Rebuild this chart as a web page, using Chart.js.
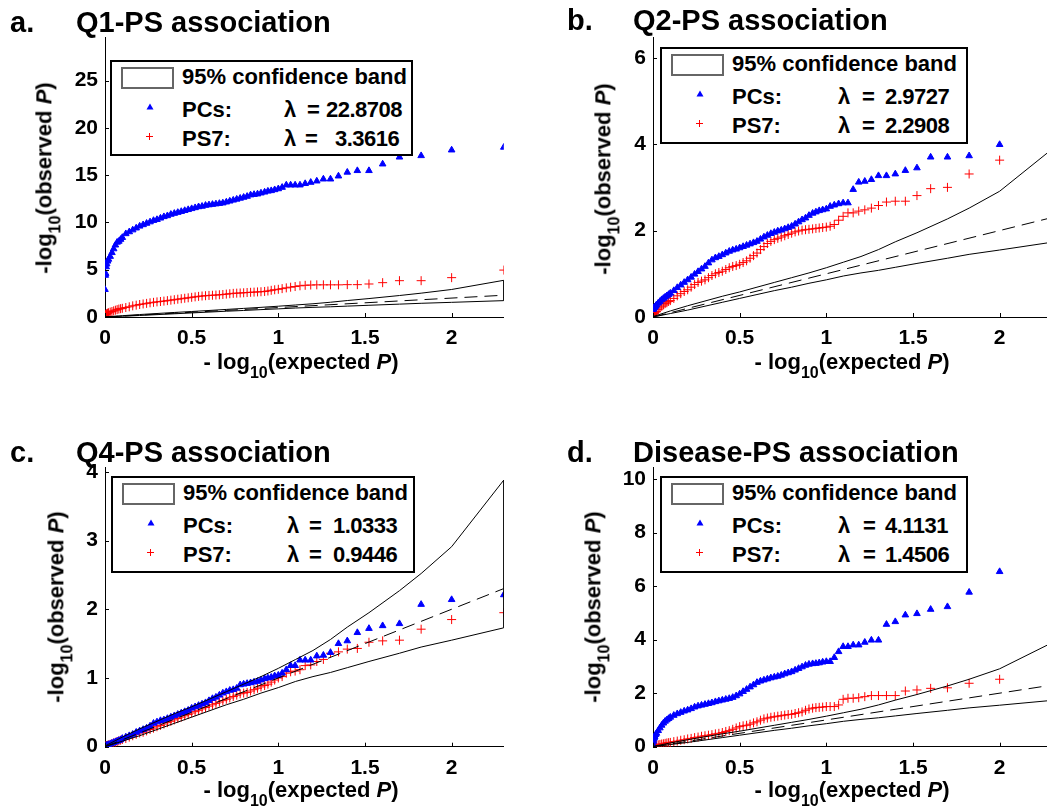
<!DOCTYPE html>
<html><head><meta charset="utf-8">
<script src="https://cdn.jsdelivr.net/npm/chart.js@4.4.0/dist/chart.umd.min.js"></script>
<style>
html,body{margin:0;padding:0;width:1047px;height:809px;overflow:hidden;background:#fff;}
#root{position:relative;width:1047px;height:809px;overflow:hidden;font-family:"Liberation Sans",Arial,Helvetica,sans-serif;font-weight:bold;color:#000;}
canvas{position:absolute;}
.txt{position:absolute;left:0;top:0;white-space:nowrap;line-height:1;transform-origin:0 0;}
.title{font-size:29px;}
.axl{font-size:22px;}
.axl .sub{font-size:16px;position:relative;top:9px;}
.leg{position:absolute;background:#fff;border:2px solid #000;box-sizing:border-box;font-size:22px;}
.leg span{position:absolute;white-space:nowrap;line-height:1;}
.leg span.val{letter-spacing:-0.5px;}
.sw{position:absolute;left:9px;top:5px;width:53px;height:22px;border:2px solid #666;box-sizing:border-box;}
.leg svg{position:absolute;}
</style></head>
<body><div id="root"></div>
<script>
// ---------- data ----------
const expectedLogP = [
  0, 0.002, 0.004, 0.007, 0.01, 0.015, 0.02, 0.03, 0.04, 0.05, 0.06, 0.07, 0.08, 0.09, 0.10,
  0.12, 0.14, 0.16, 0.18, 0.20, 0.22, 0.24, 0.26, 0.28, 0.30,
  0.32, 0.34, 0.36, 0.38, 0.40, 0.42, 0.44, 0.46, 0.48, 0.50,
  0.52, 0.54, 0.56, 0.58, 0.60, 0.62, 0.64, 0.66, 0.68, 0.70,
  0.72, 0.74, 0.76, 0.78, 0.80, 0.82, 0.84, 0.86, 0.88, 0.90,
  0.921, 0.940, 0.959, 0.979,
  1.000, 1.022, 1.046, 1.071, 1.097, 1.125, 1.155, 1.187, 1.222, 1.260,
  1.301, 1.347, 1.398, 1.456, 1.523, 1.602, 1.699, 1.824, 2.000, 2.301
];
const q1PCs = [
  2.9, 4.4, 4.6, 5.3, 5.6, 5.9, 6.1, 6.4, 6.8, 7.2, 7.6, 7.9, 8.0, 8.2, 8.4,
  8.8, 9.0, 9.2, 9.4, 9.6, 9.75, 9.9, 10.05, 10.2, 10.3,
  10.45, 10.6, 10.7, 10.85, 10.95, 11.05, 11.15, 11.25, 11.35, 11.45,
  11.55, 11.65, 11.7, 11.8, 11.85, 11.9, 11.95, 12.0, 12.05, 12.15,
  12.25, 12.35, 12.45, 12.55, 12.65, 12.75, 12.9, 12.95, 13.0, 13.1,
  13.2, 13.3, 13.35, 13.45,
  13.55, 13.7, 13.95, 13.95, 13.95, 13.95, 14.1, 14.23, 14.37, 14.58,
  14.58, 14.9, 15.3, 15.47, 15.47, 16.17, 16.9, 17.05, 17.65, 17.94
];
const q1PS7 = [
  0.1, 0.2, 0.25, 0.3, 0.35, 0.4, 0.45, 0.52, 0.58, 0.65, 0.72, 0.78, 0.84, 0.88, 0.92,
  1.0, 1.08, 1.18, 1.25, 1.32, 1.38, 1.44, 1.5, 1.55, 1.6,
  1.64, 1.68, 1.73, 1.78, 1.83, 1.88, 1.93, 1.98, 2.03, 2.08,
  2.13, 2.18, 2.22, 2.25, 2.28, 2.3, 2.32, 2.35, 2.38, 2.42,
  2.46, 2.5, 2.52, 2.54, 2.56, 2.59, 2.61, 2.63, 2.65, 2.67,
  2.7, 2.75, 2.82, 2.88,
  2.93, 3.0, 3.08, 3.15, 3.22, 3.3, 3.35, 3.38, 3.4, 3.4,
  3.4, 3.4, 3.42, 3.42, 3.49, 3.63, 3.84, 3.84, 4.16, 4.96
];
const q2PCs = [
  0.17, 0.19, 0.2, 0.22, 0.23, 0.25, 0.28, 0.32, 0.36, 0.4, 0.43, 0.46, 0.49, 0.52, 0.55,
  0.61, 0.68, 0.74, 0.8, 0.86, 0.92, 0.99, 1.05, 1.11, 1.17,
  1.25, 1.32, 1.37, 1.4, 1.44, 1.48, 1.52, 1.55, 1.57, 1.6,
  1.63, 1.66, 1.69, 1.72, 1.75, 1.8, 1.85, 1.89, 1.93, 1.96,
  1.99, 2.01, 2.04, 2.07, 2.1, 2.15, 2.2, 2.25, 2.29, 2.35,
  2.4, 2.43, 2.46, 2.48,
  2.5, 2.56, 2.59, 2.62, 2.64, 2.64, 2.95, 3.12, 3.14, 3.18,
  3.27, 3.27, 3.31, 3.39, 3.45, 3.7, 3.7, 3.73, 3.99, 4.6
];
const q2PS7 = [
  0.05, 0.07, 0.08, 0.09, 0.1, 0.12, 0.13, 0.17, 0.21, 0.25, 0.28, 0.31, 0.33, 0.36, 0.38,
  0.43, 0.49, 0.54, 0.59, 0.63, 0.69, 0.75, 0.8, 0.83, 0.86,
  0.91, 0.96, 1.0, 1.03, 1.06, 1.1, 1.14, 1.17, 1.19, 1.22,
  1.26, 1.3, 1.36, 1.42, 1.48, 1.56, 1.63, 1.7, 1.75, 1.79,
  1.82, 1.85, 1.88, 1.91, 1.94, 1.97, 1.99, 2.01, 2.02, 2.03,
  2.04, 2.05, 2.06, 2.07,
  2.08, 2.1, 2.14, 2.24, 2.33, 2.41, 2.41, 2.45, 2.48, 2.52,
  2.58, 2.66, 2.68, 2.68, 2.81, 2.97, 3.0, 3.31, 3.63, 4.1
];
const q4PCs = [
  0.01, 0.01, 0.01, 0.015, 0.02, 0.02, 0.03, 0.04, 0.05, 0.06, 0.07, 0.08, 0.09, 0.1, 0.12,
  0.14, 0.16, 0.18, 0.21, 0.23, 0.25, 0.27, 0.3, 0.34, 0.36,
  0.38, 0.39, 0.41, 0.43, 0.45, 0.47, 0.49, 0.51, 0.53, 0.56,
  0.58, 0.6, 0.62, 0.64, 0.67, 0.7, 0.72, 0.75, 0.78, 0.8,
  0.82, 0.83, 0.85, 0.9, 0.91, 0.92, 0.93, 0.94, 0.95, 0.97,
  0.99, 1.0, 1.01, 1.03,
  1.04, 1.07, 1.12, 1.18, 1.18, 1.26, 1.26, 1.26, 1.32, 1.33,
  1.37, 1.5, 1.54, 1.66, 1.72, 1.76, 1.79, 2.07, 2.14, 2.21
];
const q4PS7 = [
  0, 0.005, 0.01, 0.012, 0.015, 0.02, 0.025, 0.035, 0.045, 0.055, 0.065, 0.075, 0.085, 0.095, 0.105,
  0.12, 0.14, 0.16, 0.18, 0.2, 0.21, 0.23, 0.25, 0.27, 0.29,
  0.31, 0.33, 0.35, 0.37, 0.39, 0.41, 0.43, 0.45, 0.47, 0.49,
  0.51, 0.53, 0.55, 0.57, 0.59, 0.61, 0.63, 0.65, 0.67, 0.69,
  0.71, 0.73, 0.75, 0.77, 0.78, 0.79, 0.81, 0.83, 0.85, 0.87,
  0.89, 0.91, 0.94, 0.97,
  1.0, 1.02, 1.07, 1.09, 1.1, 1.12, 1.18, 1.19, 1.24, 1.27,
  1.36, 1.38, 1.42, 1.43, 1.52, 1.54, 1.55, 1.71, 1.85, 1.95
];
const diseasePCs = [
  0.08, 0.2, 0.28, 0.33, 0.38, 0.45, 0.5, 0.6, 0.7, 0.8, 0.88, 0.95, 1.0, 1.05, 1.1,
  1.17, 1.23, 1.28, 1.33, 1.37, 1.42, 1.48, 1.52, 1.55, 1.58,
  1.61, 1.64, 1.68, 1.71, 1.74, 1.77, 1.8, 1.84, 1.9, 1.97,
  2.06, 2.14, 2.23, 2.31, 2.4, 2.45, 2.49, 2.53, 2.57, 2.6,
  2.63, 2.67, 2.72, 2.76, 2.8, 2.86, 2.92, 2.98, 3.04, 3.08,
  3.1, 3.11, 3.13, 3.16,
  3.18, 3.18, 3.33, 3.55, 3.74, 3.74, 3.8, 3.8, 3.9, 3.98,
  3.98, 4.57, 4.67, 4.92, 4.97, 5.13, 5.23, 5.77, 6.54, 8.1
];
const diseasePS7 = [
  0, 0.01, 0.02, 0.025, 0.03, 0.04, 0.05, 0.07, 0.085, 0.1, 0.11, 0.125, 0.14, 0.15, 0.16,
  0.19, 0.21, 0.24, 0.26, 0.29, 0.31, 0.34, 0.36, 0.39, 0.41,
  0.43, 0.45, 0.48, 0.5, 0.53, 0.57, 0.6, 0.65, 0.7, 0.75,
  0.78, 0.8, 0.84, 0.89, 0.93, 0.99, 1.04, 1.07, 1.1, 1.12,
  1.14, 1.16, 1.18, 1.2, 1.21, 1.24, 1.27, 1.3, 1.36, 1.41,
  1.44, 1.46, 1.47, 1.48,
  1.5, 1.5, 1.5, 1.56, 1.77, 1.81, 1.81, 1.83, 1.87, 1.91,
  1.91, 1.91, 1.91, 2.08, 2.12, 2.18, 2.2, 2.37, 2.52, 3.0
];
// 95% confidence band and null (expected) line
const bandX     = [0, 0.1, 0.2, 0.3, 0.4, 0.5, 0.6, 0.7, 0.8, 0.9, 1.0, 1.1, 1.2, 1.301, 1.398, 1.523, 1.699, 1.824, 2.0, 2.301];
const bandUpper = [0.01, 0.14, 0.26, 0.37, 0.48, 0.58, 0.69, 0.80, 0.91, 1.02, 1.14, 1.27, 1.40, 1.56, 1.74, 1.95, 2.27, 2.52, 2.91, 3.88];
const bandLower = [0, 0.08, 0.16, 0.25, 0.34, 0.43, 0.52, 0.61, 0.69, 0.78, 0.86, 0.95, 1.02, 1.08, 1.15, 1.24, 1.36, 1.45, 1.55, 1.73];
const nullX = [0, 2.301];
const nullY = [0, 2.301];

const panelLetters = ['a.', 'b.', 'c.', 'd.'];
const panelTitles = ['Q1-PS association', 'Q2-PS association', 'Q4-PS association', 'Disease-PS association'];
const pcsSeries = [q1PCs, q2PCs, q4PCs, diseasePCs];
const ps7Series = [q1PS7, q2PS7, q4PS7, diseasePS7];
const lambdaPCs = ['22.8708', '2.9727', '1.0333', '4.1131'];
const lambdaPS7 = ['3.3616', '2.2908', '0.9446', '1.4506'];
const yMaxes = [29.6, 6.48, 4.07, 10.45];
const yTickSteps = [5, 2, 1, 2];
const xTickStep = 0.5;
const xMax = 2.301;
const bandLabel = '95% confidence band';
const seriesLabels = ['PCs:', 'PS7:'];

// ---------- layout (pixels); right panels run past the page edge and are cropped ----------
const layout = [
  {cx:0,   cy:0,   cw:530, ch:400, area:{l:105, r:503.8,  t:37,  b:317},   letterX:10,  titleX:76,  titleBase:33,  leg:{x:110, y:60,  w:303, h:96, lam:172, eq:[195, 193], val:[214, 223]}, xlab:{cx:301, base:370}, ylab:{bx:52,  cy:178}},
  {cx:530, cy:0,   cw:540, ch:400, area:{l:653, r:1051.8, t:37,  b:317},   letterX:567, titleX:633, titleBase:31,  leg:{x:660, y:47,  w:308, h:97, lam:176, eq:[200, 200], val:[223, 223]}, xlab:{cx:852, base:370}, ylab:{bx:611, cy:179}},
  {cx:0,   cy:400, cw:530, ch:409, area:{l:105, r:503.8,  t:467, b:746.7}, letterX:10,  titleX:76,  titleBase:463, leg:{x:111, y:476, w:304, h:97, lam:174, eq:[196, 196], val:[220, 220]}, xlab:{cx:301, base:798}, ylab:{bx:64,  cy:607}},
  {cx:530, cy:400, cw:540, ch:409, area:{l:653, r:1051.8, t:467, b:746.7}, letterX:567, titleX:633, titleBase:463, leg:{x:660, y:476, w:308, h:97, lam:176, eq:[201, 201], val:[223, 223]}, xlab:{cx:852, base:798}, ylab:{bx:601, cy:607}}
];

const root = document.getElementById('root');
const FONT = '"Liberation Sans", Arial, Helvetica, sans-serif';

const inwardTicks = {
  id: 'inwardTicks',
  afterDraw(chart) {
    const {ctx, chartArea} = chart;
    const xs = chart.scales.x, ys = chart.scales.y;
    ctx.save();
    ctx.strokeStyle = '#000';
    ctx.lineWidth = 1;
    xs.ticks.forEach(t => {
      const px = Math.round(xs.getPixelForValue(t.value)) + 0.5;
      ctx.beginPath(); ctx.moveTo(px, chartArea.bottom); ctx.lineTo(px, chartArea.bottom - 4); ctx.stroke();
    });
    ys.ticks.forEach(t => {
      const py = Math.round(ys.getPixelForValue(t.value)) + 0.5;
      ctx.beginPath(); ctx.moveTo(chartArea.left, py); ctx.lineTo(chartArea.left + 4, py); ctx.stroke();
    });
    ctx.restore();
  }
};

function addText(html, cls, transform) {
  const d = document.createElement('div');
  d.className = 'txt ' + cls;
  d.innerHTML = html;
  d.style.transform = transform;
  root.appendChild(d);
  return d;
}

const fmtTick = v => String(Math.round(v * 100) / 100);

layout.forEach((L, i) => {
  const cv = document.createElement('canvas');
  cv.width = L.cw; cv.height = L.ch;
  cv.style.left = L.cx + 'px'; cv.style.top = L.cy + 'px';
  cv.style.width = L.cw + 'px'; cv.style.height = L.ch + 'px';
  root.appendChild(cv);

  const XH = 40;
  const aL = L.area.l - L.cx, aR = L.area.r - L.cx, aT = L.area.t - L.cy, aB = L.area.b - L.cy;

  const bandPoly = bandX.map((x, k) => ({x, y: bandUpper[k]}))
    .concat(bandX.map((x, k) => ({x, y: bandLower[k]})).reverse());
  const nullPts = nullX.map((x, k) => ({x, y: nullY[k]}));
  const pcsPts = expectedLogP.map((x, k) => ({x, y: pcsSeries[i][k]}));
  const ps7Pts = expectedLogP.map((x, k) => ({x, y: ps7Series[i][k]}));

  const tickFont = {family: FONT, size: 21, weight: 'bold'};

  new Chart(cv, {
    type: 'scatter',
    data: {
      datasets: [
        {label: 'band', data: bandPoly, showLine: true, borderColor: '#000', borderWidth: 1, pointRadius: 0, fill: false, tension: 0, order: 0},
        {label: 'null', data: nullPts, showLine: true, borderColor: '#000', borderWidth: 1, borderDash: [13, 7], pointRadius: 0, fill: false, order: 0},
        {label: 'PCs', data: pcsPts, pointStyle: 'triangle', pointRadius: 3.8, backgroundColor: '#0000ff', borderColor: '#0000ff', borderWidth: 1, order: 1},
        {label: 'PS7', data: ps7Pts, pointStyle: 'cross', pointRadius: 4.5, borderColor: '#ff0000', backgroundColor: '#ff0000', borderWidth: 1, order: 1}
      ]
    },
    options: {
      responsive: false,
      animation: false,
      events: [],
      layout: {padding: {left: 0, top: aT, right: L.cw - aR, bottom: L.ch - aB - XH}},
      plugins: {legend: {display: false}, tooltip: {enabled: false}},
      scales: {
        x: {
          type: 'linear', position: 'bottom', min: 0, max: xMax,
          afterFit: s => { s.height = XH; s.paddingLeft = 0; s.paddingRight = 0; },
          ticks: {stepSize: xTickStep, includeBounds: false, font: tickFont, color: '#000', padding: 9, maxRotation: 0, autoSkip: false, callback: fmtTick},
          grid: {display: true, drawOnChartArea: false, drawTicks: false},
          border: {display: true, color: '#000', width: 1}
        },
        y: {
          type: 'linear', position: 'left', min: 0, max: yMaxes[i],
          afterFit: s => { s.width = aL; s.paddingTop = 0; s.paddingBottom = 0; },
          ticks: {stepSize: yTickSteps[i], includeBounds: false, font: tickFont, color: '#000', padding: 7, autoSkip: false, callback: fmtTick},
          grid: {display: true, drawOnChartArea: false, drawTicks: false},
          border: {display: true, color: '#000', width: 1}
        }
      }
    },
    plugins: [inwardTicks]
  });

  // titles
  const tOff = 0.8465 * 29;
  addText(panelLetters[i], 'title', `translate(${L.letterX}px, ${L.titleBase - tOff}px)`);
  addText(panelTitles[i], 'title', `translate(${L.titleX}px, ${L.titleBase - tOff}px)`);

  // axis labels
  const aOff = 0.8465 * 22;
  addText('- log<span class="sub">10</span>(expected <i>P</i>)', 'axl',
    `translate(${L.xlab.cx}px, ${L.xlab.base}px) translate(-50%, ${-aOff}px)`);
  addText('-log<span class="sub">10</span>(observed <i>P</i>)', 'axl',
    `translate(${L.ylab.bx}px, ${L.ylab.cy}px) rotate(-90deg) translate(-50%, ${-aOff}px)`);

  // legend
  const G = L.leg;
  const lg = document.createElement('div');
  lg.className = 'leg';
  lg.style.left = G.x + 'px'; lg.style.top = G.y + 'px';
  lg.style.width = G.w + 'px'; lg.style.height = G.h + 'px';
  const rb = [25, 58, 87].map(b => b - 2 - aOff);
  lg.innerHTML =
    `<div class="sw"></div>` +
    `<span style="left:70px;top:${rb[0]}px">${bandLabel}</span>` +
    `<svg width="8" height="7" style="left:34px;top:41px"><polygon points="4,0.5 7.5,6.5 0.5,6.5" fill="#0000ff"/></svg>` +
    `<span style="left:70px;top:${rb[1]}px">${seriesLabels[0]}</span>` +
    `<span style="left:${G.lam}px;top:${rb[1]}px">λ</span>` +
    `<span style="left:${G.eq[0]}px;top:${rb[1]}px">=</span>` +
    `<span class="val" style="left:${G.val[0]}px;top:${rb[1]}px">${lambdaPCs[i]}</span>` +
    `<svg width="7" height="7" style="left:34px;top:71px"><rect x="3" y="0" width="1" height="7" fill="#ff0000"/><rect x="0" y="3" width="7" height="1" fill="#ff0000"/></svg>` +
    `<span style="left:70px;top:${rb[2]}px">${seriesLabels[1]}</span>` +
    `<span style="left:${G.lam}px;top:${rb[2]}px">λ</span>` +
    `<span style="left:${G.eq[1]}px;top:${rb[2]}px">=</span>` +
    `<span class="val" style="left:${G.val[1]}px;top:${rb[2]}px">${lambdaPS7[i]}</span>`;
  root.appendChild(lg);
});
</script>
</body></html>
